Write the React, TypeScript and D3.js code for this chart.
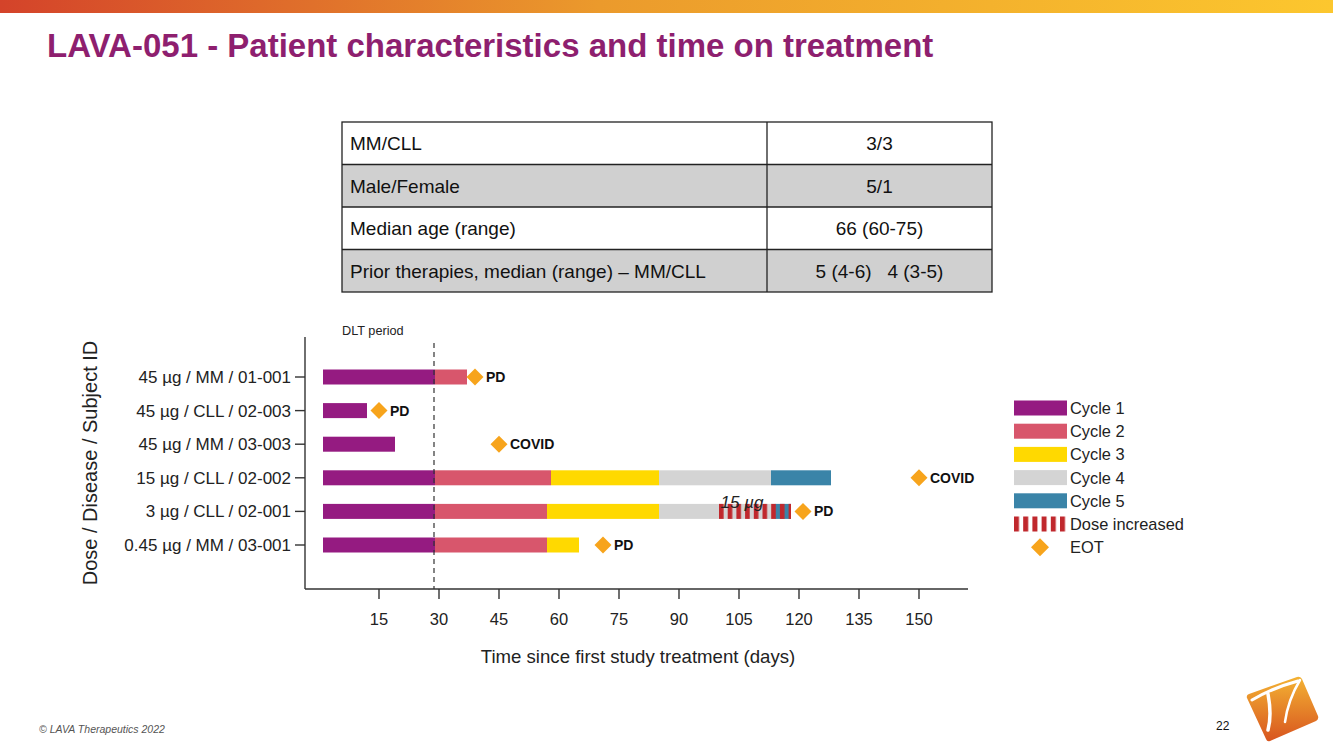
import React from "react";
import * as d3 from "d3";

const subjects = [
  "45 µg / MM / 01-001",
  "45 µg / CLL / 02-003",
  "45 µg / MM / 03-003",
  "15 µg / CLL / 02-002",
  "3 µg / CLL / 02-001",
  "0.45 µg / MM / 03-001",
];
const treatmentStart = 1;
const cycleEnds: number[][] = [
  [29, 37],
  [12],
  [19],
  [29, 58, 85, 113, 128],
  [29, 57, 85, 114, 118],
  [29, 57, 65],
];
const eotDays = [39, 15, 45, 150, 121, 71];
const eotReasons = ["PD", "PD", "COVID", "COVID", "PD", "PD"];
const doseIncreaseSubject = "3 µg / CLL / 02-001";
const doseIncreaseStart = 100;
const doseIncreaseEnd = 118;
const doseIncreaseLabel = "15 µg";
const dltDay = 28.75;
const xTicks = [15, 30, 45, 60, 75, 90, 105, 120, 135, 150];
const cycleNames = ["Cycle 1", "Cycle 2", "Cycle 3", "Cycle 4", "Cycle 5"];
const cycleColors = ["#951b81", "#d8566c", "#ffd900", "#d4d4d4", "#3a84a8"];

const tableLabels = ["MM/CLL", "Male/Female", "Median age (range)", "Prior therapies, median (range) – MM/CLL"];
const tableValues = ["3/3", "5/1", "66 (60-75)", "5 (4-6)   4 (3-5)"];

const FONT = "Liberation Sans, Arial, sans-serif";
const EOT_COLOR = "#f7a41c";
const STRIPE = "#c0282d";

export default function App() {
  const x = d3.scaleLinear().domain([0, 150]).range([319, 919]);
  const y = d3.scalePoint<string>().domain(subjects).range([377, 545]);
  const barH = 15;
  const axisLeft = 305;
  const axisBottom = 589;
  const axisRight = 968;
  const axisTop = 337;

  const diamond = (cx: number, cy: number, r: number) =>
    `M${cx},${cy - r}L${cx + r},${cy}L${cx},${cy + r}L${cx - r},${cy}Z`;

  const tblX = [342, 767, 992];
  const tblY = d3.range(5).map((i) => 122 + i * 42.5);

  const legendY = d3.range(7).map((i) => 408 + i * 23.2);

  return (
    <svg width={1333} height={749} style={{ position: "absolute", left: 0, top: 0, background: "#fff" }} fontFamily={FONT}>
      <defs>
        <linearGradient id="topbar" x1="0" x2="1" y1="0" y2="0">
          <stop offset="0" stopColor="#d4432a" />
          <stop offset="0.45" stopColor="#eb9a2c" />
          <stop offset="1" stopColor="#fcc72e" />
        </linearGradient>
        <linearGradient id="logo" x1="0" x2="0" y1="0" y2="1">
          <stop offset="0" stopColor="#f3b233" />
          <stop offset="1" stopColor="#d8551f" />
        </linearGradient>
        <pattern id="stripes" patternUnits="userSpaceOnUse" x={x(doseIncreaseStart)} y={0} width={8.7} height={20}>
          <rect x={0} y={0} width={4.6} height={20} fill={STRIPE} />
        </pattern>
        <pattern id="stripesLegend" patternUnits="userSpaceOnUse" x={1014} y={0} width={9.2} height={20}>
          <rect x={0} y={0} width={5} height={20} fill={STRIPE} />
        </pattern>
      </defs>

      {/* top gradient bar */}
      <rect x={0} y={0} width={1333} height={13} fill="url(#topbar)" />

      {/* title */}
      <text x={47} y={57} fontSize={33} fontWeight="bold" fill="#8e1f6f">
        LAVA-051 - Patient characteristics and time on treatment
      </text>

      {/* table */}
      {tableLabels.map((lab, i) => (
        <g key={lab}>
          <rect x={tblX[0]} y={tblY[i]} width={tblX[2] - tblX[0]} height={tblY[i + 1] - tblY[i]} fill={i % 2 === 1 ? "#d0d0d0" : "#fff"} />
          <text x={350} y={(tblY[i] + tblY[i + 1]) / 2 + 7} fontSize={19} fill="#111">{lab}</text>
          <text x={(tblX[1] + tblX[2]) / 2} y={(tblY[i] + tblY[i + 1]) / 2 + 7} fontSize={19} fill="#111" textAnchor="middle" style={{ whiteSpace: "pre" }}>
            {tableValues[i]}
          </text>
        </g>
      ))}
      <g stroke="#222" strokeWidth={1.3} fill="none">
        <rect x={tblX[0]} y={tblY[0]} width={tblX[2] - tblX[0]} height={tblY[4] - tblY[0]} />
        {tblY.slice(1, 4).map((yy) => (
          <line key={yy} x1={tblX[0]} x2={tblX[2]} y1={yy} y2={yy} />
        ))}
        <line x1={tblX[1]} x2={tblX[1]} y1={tblY[0]} y2={tblY[4]} />
      </g>

      {/* axes */}
      <g stroke="#333" strokeWidth={1.4}>
        <line x1={axisLeft} x2={axisLeft} y1={axisTop} y2={axisBottom} />
        <line x1={axisLeft} x2={axisRight} y1={axisBottom} y2={axisBottom} />
        {subjects.map((s) => (
          <line key={s} x1={axisLeft - 10} x2={axisLeft} y1={y(s)} y2={y(s)} />
        ))}
        {xTicks.map((t) => (
          <line key={t} x1={x(t)} x2={x(t)} y1={axisBottom} y2={axisBottom + 10} />
        ))}
      </g>
      {subjects.map((s) => (
        <text key={s} x={axisLeft - 14} y={y(s)! + 6} fontSize={17} textAnchor="end" fill="#222">{s}</text>
      ))}
      {xTicks.map((t) => (
        <text key={t} x={x(t)} y={625} fontSize={16.5} textAnchor="middle" fill="#222">{t}</text>
      ))}
      <text x={638} y={663} fontSize={18.6} textAnchor="middle" fill="#222">Time since first study treatment (days)</text>
      <text transform="translate(97,463) rotate(-90)" fontSize={20} textAnchor="middle" fill="#222">Dose / Disease / Subject ID</text>

      {/* bars */}
      {subjects.map((s, i) => {
        const ends = cycleEnds[i];
        return (
          <g key={s}>
            {ends.map((e, c) => {
              const start = c === 0 ? treatmentStart : ends[c - 1];
              return (
                <rect key={c} x={x(start)} y={y(s)! - barH / 2} width={x(e) - x(start)} height={barH} fill={cycleColors[c]} />
              );
            })}
            {s === doseIncreaseSubject && (
              <>
                <rect x={x(doseIncreaseStart)} y={y(s)! - barH / 2} width={x(doseIncreaseEnd) - x(doseIncreaseStart)} height={barH} fill="url(#stripes)" />
                <text x={x(doseIncreaseStart) + 23} y={y(s)! - 3} fontSize={17} fontStyle="italic" textAnchor="middle" fill="#222">{doseIncreaseLabel}</text>
              </>
            )}
            <path d={diamond(x(eotDays[i]), y(s)!, 8.5)} fill={EOT_COLOR} />
            <text x={x(eotDays[i]) + 11} y={y(s)! + 5} fontSize={14} fontWeight="bold" fill="#111">{eotReasons[i]}</text>
          </g>
        );
      })}

      {/* DLT line */}
      <line x1={x(dltDay)} x2={x(dltDay)} y1={343} y2={axisBottom} stroke="#333" strokeWidth={1.2} strokeDasharray="5,4" />
      <text x={342} y={335} fontSize={12.7} fill="#222">DLT period</text>

      {/* legend */}
      {cycleNames.map((n, i) => (
        <g key={n}>
          <rect x={1014} y={legendY[i] - 7.5} width={53} height={15} fill={cycleColors[i]} />
          <text x={1070} y={legendY[i] + 6} fontSize={16.4} fill="#222">{n}</text>
        </g>
      ))}
      <rect x={1014} y={legendY[5] - 7.5} width={53} height={15} fill="url(#stripesLegend)" />
      <text x={1070} y={legendY[5] + 6} fontSize={16.4} fill="#222">Dose increased</text>
      <path d={diamond(1040, legendY[6], 9)} fill={EOT_COLOR} />
      <text x={1070} y={legendY[6] + 6} fontSize={16.4} fill="#222">EOT</text>

      {/* footer */}
      <text x={39} y={733} fontSize={10.5} fontStyle="italic" fill="#555">© LAVA Therapeutics 2022</text>
      <text x={1216} y={730} fontSize={12} fill="#111">22</text>

      {/* logo */}
      <path d="M1249,694 L1297,677 Q1300,676 1302,679 L1318,716 Q1319,719 1316,721 L1270,741 Q1267,742 1266,739 L1247,698 Q1246,695 1249,694 Z" fill="url(#logo)" />
      <path d="M1252,700 Q1272,688 1298,681" stroke="#fff" strokeWidth={3} fill="none" strokeLinecap="round" />
      <path d="M1268,694 Q1272,715 1268,730" stroke="#fff" strokeWidth={3.5} fill="none" strokeLinecap="round" />
      <path d="M1300,680 Q1288,700 1285,722" stroke="#fff" strokeWidth={2.5} fill="none" strokeLinecap="round" />
    </svg>
  );
}
